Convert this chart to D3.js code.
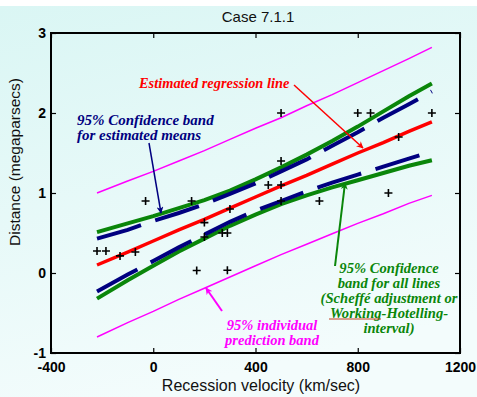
<!DOCTYPE html>
<html>
<head>
<meta charset="utf-8">
<script src="https://cdn.jsdelivr.net/npm/d3@7"></script>
<style>
  body { margin: 0; background: #fff; }
  svg text { font-family: "Liberation Sans", Arial, sans-serif; }
  .note { font-family: "Liberation Serif", "Times New Roman", serif; font-weight: bold; font-style: italic; }
</style>
</head>
<body>
<div id="chart"></div>
<script>
// data: Hubble 1929 galaxies (velocity km/sec, distance megaparsecs)
const velocity = [170, 290, -130, -70, -185, -220, 200, 290, 270, 200, 300, -30,
  650, 150, 500, 920, 450, 500, 500, 960, 500, 850, 800, 1090];
const distance = [0.032, 0.034, 0.214, 0.263, 0.275, 0.275, 0.45, 0.5, 0.5, 0.63, 0.8, 0.9,
  0.9, 0.9, 0.9, 1.0, 1.1, 1.1, 1.4, 1.7, 2.0, 2.0, 2.0, 2.0];

// band curves read at these velocities
const bandX = [-220, -100, 0, 100, 200, 300, 400, 500, 600, 700, 800, 900, 1000, 1090];
const fitLine = [0.10, 0.26, 0.40, 0.54, 0.67, 0.81, 0.95, 1.09, 1.22, 1.36, 1.50, 1.63, 1.77, 1.89];
const meanUpper = [0.43, 0.54, 0.65, 0.75, 0.86, 0.99, 1.12, 1.27, 1.42, 1.59, 1.76, 1.94, 2.11, 2.27];
const meanLower = [-0.23, -0.02, 0.15, 0.32, 0.48, 0.64, 0.78, 0.90, 1.02, 1.13, 1.23, 1.33, 1.43, 1.52];
const allUpper = [0.51, 0.62, 0.71, 0.81, 0.91, 1.03, 1.17, 1.32, 1.48, 1.65, 1.83, 2.02, 2.21, 2.37];
const allLower = [-0.32, -0.09, 0.09, 0.27, 0.43, 0.59, 0.73, 0.86, 0.97, 1.07, 1.16, 1.25, 1.34, 1.41];
const predUpper = [1.00, 1.15, 1.27, 1.40, 1.53, 1.67, 1.81, 1.94, 2.09, 2.23, 2.38, 2.53, 2.68, 2.82];
const predLower = [-0.80, -0.62, -0.48, -0.33, -0.19, -0.05, 0.09, 0.23, 0.36, 0.49, 0.62, 0.74, 0.87, 0.97];

const xTicks = [-400, 0, 400, 800, 1200];
const yTicks = [-1, 0, 1, 2, 3];

const W = 477, H = 397;
const svg = d3.select("#chart").append("svg")
    .attr("width", W)
    .attr("height", H);

// background
const defs = svg.append("defs");
const grad = defs.append("linearGradient")
    .attr("id", "bg")
    .attr("x1", 0).attr("y1", 0).attr("x2", 0.3).attr("y2", 1);
grad.append("stop").attr("offset", "0%").attr("stop-color", "#daf6f4");
grad.append("stop").attr("offset", "100%").attr("stop-color", "#f3fcfc");

svg.append("rect")
    .attr("x", 0).attr("y", 6)
    .attr("width", W).attr("height", H - 6)
    .attr("fill", "url(#bg)");

defs.selectAll("marker")
    .data([["red", "#ff0000"], ["navy", "#000080"], ["green", "#0a860a"], ["mag", "#ff00ff"]])
    .enter().append("marker")
    .attr("id", d => "arrow-" + d[0])
    .attr("viewBox", "0 0 10 10")
    .attr("refX", 9).attr("refY", 5)
    .attr("markerWidth", 7).attr("markerHeight", 7)
    .attr("markerUnits", "userSpaceOnUse")
    .attr("orient", "auto")
    .append("path")
    .attr("d", "M0,0 L10,5 L0,10 L3,5 Z")
    .attr("fill", d => d[1]);

// scales
const x = d3.scaleLinear().domain([-400, 1200]).range([51, 460]);
const y = d3.scaleLinear().domain([-1, 3]).range([353, 33]);

const line = d3.line()
    .x(d => x(d[0]))
    .y(d => y(d[1]));

function drawCurve(vals, color, width, dash) {
    svg.append("path")
        .datum(bandX.map((v, i) => [v, vals[i]]))
        .attr("d", line)
        .attr("fill", "none")
        .attr("stroke", color)
        .attr("stroke-width", width)
        .attr("stroke-dasharray", dash || null);
}

drawCurve(predUpper, "#ff00ff", 1.5);
drawCurve(predLower, "#ff00ff", 1.5);
drawCurve(allUpper, "#0a860a", 4);
drawCurve(allLower, "#0a860a", 4);
drawCurve(meanUpper, "#000080", 4, "46,15");
drawCurve(meanLower, "#000080", 4, "46,15");
drawCurve(fitLine, "#ff0000", 3.5);

// data points
svg.append("g").selectAll("path")
    .data(velocity.map((v, i) => [v, distance[i]]))
    .enter().append("path")
    .attr("transform", d => "translate(" + x(d[0]) + "," + y(d[1]) + ")")
    .attr("d", "M-4,0H4M0,-4V4")
    .attr("stroke", "#000")
    .attr("stroke-width", 1.6);

// axes box with inward ticks
svg.append("rect")
    .attr("x", x(-400)).attr("y", y(3))
    .attr("width", x(1200) - x(-400)).attr("height", y(-1) - y(3))
    .attr("fill", "none")
    .attr("stroke", "#000")
    .attr("stroke-width", 2);

const fmt = d => String(d);
const axisBottom = d3.axisBottom(x).tickValues(xTicks).tickSizeInner(-5).tickSizeOuter(0).tickPadding(9).tickFormat(fmt);
const axisTop = d3.axisTop(x).tickValues(xTicks).tickSizeInner(-5).tickSizeOuter(0).tickFormat("");
const axisLeft = d3.axisLeft(y).tickValues(yTicks).tickSizeInner(-5).tickSizeOuter(0).tickPadding(5).tickFormat(fmt);
const axisRight = d3.axisRight(y).tickValues(yTicks).tickSizeInner(-5).tickSizeOuter(0).tickFormat("");

function styleAxis(g) {
    g.select(".domain").remove();
    g.selectAll(".tick line").attr("stroke", "#000").attr("stroke-width", 1.2);
    g.selectAll(".tick text")
        .attr("fill", "#000")
        .attr("font-size", "14px")
        .attr("font-weight", "bold")
        .attr("font-family", "Liberation Sans, Arial, sans-serif");
}

svg.append("g").attr("transform", "translate(0," + y(-1) + ")").call(axisBottom).call(styleAxis);
svg.append("g").attr("transform", "translate(0," + y(3) + ")").call(axisTop).call(styleAxis);
svg.append("g").attr("transform", "translate(" + x(-400) + ",0)").call(axisLeft).call(styleAxis);
svg.append("g").attr("transform", "translate(" + x(1200) + ",0)").call(axisRight).call(styleAxis);

// titles
svg.append("text")
    .attr("x", 258).attr("y", 22)
    .attr("text-anchor", "middle")
    .attr("font-size", "15px")
    .attr("fill", "#111")
    .text("Case 7.1.1");

svg.append("text")
    .attr("x", 261).attr("y", 391)
    .attr("text-anchor", "middle")
    .attr("font-size", "16px")
    .attr("fill", "#111")
    .text("Recession velocity (km/sec)");

svg.append("text")
    .attr("transform", "translate(20,162) rotate(-90)")
    .attr("text-anchor", "middle")
    .attr("font-size", "15.5px")
    .attr("fill", "#111")
    .text("Distance (megaparsecs)");

// annotations
function note(lines, cx, cy, color, anchor, size) {
    const t = svg.append("text")
        .attr("class", "note")
        .attr("fill", color)
        .attr("font-size", size + "px")
        .attr("text-anchor", anchor);
    lines.forEach((s, i) => {
        t.append("tspan").attr("x", cx).attr("y", cy + i * 15).text(s);
    });
    return t;
}

function arrow(x1, y1, x2, y2, color, id, w) {
    svg.append("line")
        .attr("x1", x1).attr("y1", y1)
        .attr("x2", x2).attr("y2", y2)
        .attr("stroke", color)
        .attr("stroke-width", w)
        .attr("marker-end", "url(#arrow-" + id + ")");
}

note(["Estimated regression line"], 139, 88, "#ff0000", "start", 14.4);
arrow(294, 85, 363, 148, "#ff0000", "red", 1.5);

note(["95% Confidence band", "for estimated means"], 77, 125, "#000080", "start", 15);
arrow(149, 143, 161, 213, "#000080", "navy", 1.5);

note(["95% Confidence", "band for all lines", "(Scheffé adjustment or", "Working-Hotelling-", "interval)"],
    389, 273, "#0a860a", "middle", 14.6);
arrow(335, 266, 345, 183, "#0a860a", "green", 2);
svg.append("line")
    .attr("x1", 329).attr("y1", 319)
    .attr("x2", 381).attr("y2", 319)
    .attr("stroke", "#c04020")
    .attr("stroke-width", 1);

note(["95% individual", "prediction band"], 272, 330, "#ff00ff", "middle", 14.5);
arrow(222, 311, 206, 288, "#ff00ff", "mag", 2);
</script>
</body>
</html>
